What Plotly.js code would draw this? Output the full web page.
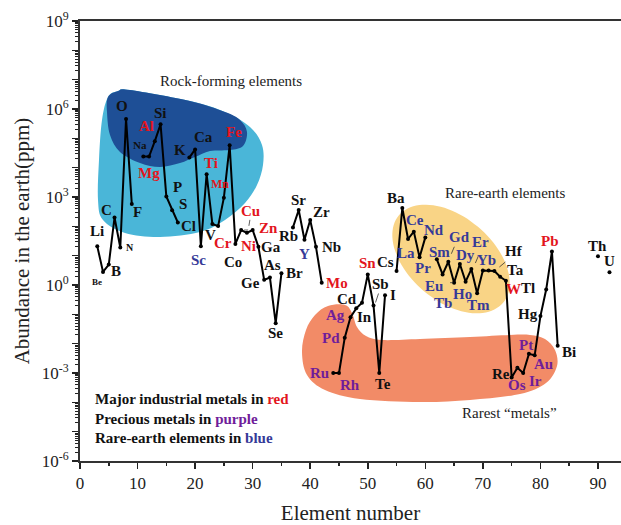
<!DOCTYPE html>
<html><head><meta charset="utf-8">
<script src="https://cdn.plot.ly/plotly-3.0.1.min.js"></script>
<style>html,body{margin:0;padding:0;background:#fff}#chart{width:621px;height:525px}</style>
</head><body><div id="chart"></div>
<script>
// ---------------- DATA ----------------
const elementNumbers = [3,4,5,6,7,8,9,10,11,12,13,14,15,16,17,18,19,20,21,22,23,24,25,26,27,28,29,30,31,32,33,34,35,36,37,38,39,40,41,42,43,44,45,46,47,48,49,50,51,52,53,54,55,56,57,58,59,60,61,62,63,64,65,66,67,68,69,70,71,72,73,74,75,76,77,78,79,80,81,82,83,84,90,91,92];
const symbols = ['Li','Be','B','C','N','O','F','Ne','Na','Mg','Al','Si','P','S','Cl','Ar','K','Ca','Sc','Ti','V','Cr','Mn','Fe','Co','Ni','Cu','Zn','Ga','Ge','As','Se','Br','Kr','Rb','Sr','Y','Zr','Nb','Mo','Tc','Ru','Rh','Pd','Ag','Cd','In','Sn','Sb','Te','I','Xe','Cs','Ba','La','Ce','Pr','Nd','Pm','Sm','Eu','Gd','Tb','Dy','Ho','Er','Tm','Yb','Lu','Hf','Ta','W','Re','Os','Ir','Pt','Au','Hg','Tl','Pb','Bi','Po','Th','Pa','U'];
const abundancePpm = [21,2.8,5,200,19,4.6e5,580,null,2.4e4,2.4e4,8e4,3e5,1050,350,135,null,2.2e4,4.2e4,21,6000,120,102,950,5.8e4,25,75,60,75,20,1.5,1.8,0.05,2.5,null,92,360,35,165,20,1.2,null,0.001,0.001,0.016,0.08,0.16,0.25,2.3,0.2,0.001,0.45,null,3,420,37,66,8.8,42,null,7.5,2.3,6.2,1.2,5.2,1.3,3.5,0.52,3.1,3.1,3.0,1.9,1.4,0.0007,0.0015,0.001,0.0045,0.004,0.087,0.7,14,0.0085,null,9.6,null,2.7];
const majorIndustrial = ['Mg','Al','Ti','Cr','Mn','Fe','Ni','Cu','Zn','Mo','Sn','W','Pb'];
const preciousMetals = ['Ru','Rh','Pd','Ag','Os','Ir','Pt','Au'];
const rareEarths = ['Sc','Y','La','Ce','Pr','Nd','Sm','Eu','Gd','Tb','Dy','Ho','Er','Tm','Yb'];
const unlabelled = ['Lu'];
const xTickVals = [0,10,20,30,40,50,60,70,80,90];
const yDecades = [-6,-5,-4,-3,-2,-1,0,1,2,3,4,5,6,7,8,9];
const yLabelledDecades = [-6,-3,0,3,6,9];

// ---------------- STYLE ----------------
const SERIF = '"Liberation Serif","Times New Roman",serif';
const RED = '#e3151d', PURPLE = '#6f1d9a', BLUE = '#363a98';
// label offsets relative to point [dx, dy] in screen px, optional font size
const labelPos = {
 Li:[0,-15],Be:[-6,10,9],B:[7,6],C:[-8,-8],N:[10,0,10],O:[-4,-13],F:[6,8],Na:[-3,-12,11],Mg:[0,16],Al:[-8,-15],
 Si:[0,-11],P:[11,-9],S:[11,-6],Cl:[11,3],K:[-9,-8],Ca:[8,-12],Sc:[-2,14],Ti:[4,-11],V:[-2,11],Cr:[5,17],
 Mn:[-4,-14,12],Fe:[4,-13],Co:[-2,18],Ni:[7,16],Cu:[4,-22],Zn:[16,-2],Ga:[13,0],Ge:[-14,3],As:[3,-13],Se:[0,10],
 Br:[13,0],Rb:[-4,9],Sr:[0,-10],Y:[0,14],Zr:[11,-8],Nb:[16,0],Mo:[15,0],Ru:[-14,0],Rh:[11,12],Pd:[-14,0],
 Ag:[-15,-2],Cd:[-9,-9],In:[2,14],Sn:[0,-11],Sb:[7,-22],Te:[4,11],I:[8,0],Cs:[-11,-9],Ba:[-6,-10],La:[-2,14],
 Ce:[1,-12],Pr:[3,11],Nd:[9,-7],Sm:[3,-7],Eu:[-9,12],Gd:[11,-25],Tb:[-11,20],Dy:[6,-9],Ho:[-3,12],Er:[9,-27],
 Tm:[1,12],Yb:[4,-11],Hf:[20,-20],Ta:[15,-7],W:[8,8],Re:[-11,-4],Os:[0,17],Ir:[12,8],Pt:[-3,-9],Au:[9,9],
 Hg:[-12,-2],Tl:[-18,-2],Pb:[-2,-10],Bi:[11,6],Th:[0,-10],U:[0,-11]
};
// leader lines: [x0,y0,x1,y1] screen px relative to the point
const leaders = {Ni:[3,1,7,8],Cu:[3,-13,2,-7],Sb:[5,-12,2,-3],Gd:[6,-15,3,-8],Tb:[-1,4,-4,11],Er:[7,-13,4,-6],Hf:[11,-9,5,-4],Os:[0,2,-1,9]};

const L = 80, T = 21, W = 541, H = 440;
function pp(p){ return [(p[0]-L)/W, (T+H-p[1])/H]; }
function smooth(pts){
  const P = pts.map(pp), n = P.length; let d = 'M' + P[0][0] + ',' + P[0][1];
  for (let i=0;i<n;i++){
    const p0=P[(i-1+n)%n], p1=P[i], p2=P[(i+1)%n], p3=P[(i+2)%n];
    const c1=[p1[0]+(p2[0]-p0[0])/6, p1[1]+(p2[1]-p0[1])/6];
    const c2=[p2[0]-(p3[0]-p1[0])/6, p2[1]-(p3[1]-p1[1])/6];
    d += ' C'+c1[0]+','+c1[1]+' '+c2[0]+','+c2[1]+' '+p2[0]+','+p2[1];
  }
  return d + ' Z';
}
function ellipse(cx,cy,a,b,angDeg){
  const t=angDeg*Math.PI/180, pts=[];
  for(let k=0;k<48;k++){const u=2*Math.PI*k/48; const ex=a*Math.cos(u), ey=b*Math.sin(u);
    pts.push([cx+ex*Math.cos(t)-ey*Math.sin(t), cy+ex*Math.sin(t)+ey*Math.cos(t)]);}
  return smooth(pts);
}
const lightBlue = [[108,97],[118,91],[130,90],[190,101],[225,112],[250,127],[262,145],[263,165],[257,185],[245,203],[225,220],[200,232],[160,237],[125,233],[103,220],[98,200],[99,160],[102,120]];
const darkBlue = [[108,97],[118,91],[130,90],[190,101],[225,112],[240,120],[247,132],[243,146],[230,150],[210,151],[195,157],[180,163],[160,167],[140,163],[120,152],[110,135],[107,112]];
const rarest = [[302,352],[306,330],[315,315],[328,306],[345,305],[352,313],[357,327],[366,336],[382,340],[420,339],[470,337],[510,335],[530,335],[545,339],[555,350],[557,366],[546,383],[520,394],[470,400],[420,402],[360,399],[325,390],[307,375]];

const shapes = [
  {type:'path', xref:'paper', yref:'paper', path:smooth(lightBlue), fillcolor:'#4ab6d8', line:{width:0}, layer:'below'},
  {type:'path', xref:'paper', yref:'paper', path:smooth(darkBlue), fillcolor:'#1e4f96', line:{width:0}, layer:'below'},
  {type:'path', xref:'paper', yref:'paper', path:ellipse(451,259,68,42,40), fillcolor:'#f9d486', line:{width:0}, layer:'below'},
  {type:'path', xref:'paper', yref:'paper', path:smooth(rarest), fillcolor:'#f28b67', line:{width:0}, layer:'below'}
];

function colorOf(s){
  if (majorIndustrial.includes(s)) return RED;
  if (preciousMetals.includes(s)) return PURPLE;
  if (rareEarths.includes(s)) return BLUE;
  return '#111';
}
const annotations = [];
symbols.forEach((s,i)=>{
  const v = abundancePpm[i];
  if (v === null || unlabelled.includes(s)) return;
  const o = labelPos[s] || [0,-12];
  annotations.push({x:elementNumbers[i], y:Math.log10(v), xref:'x', yref:'y', text:'<b>'+s+'</b>', showarrow:false,
    xshift:o[0], yshift:-o[1], xanchor:'center', yanchor:'middle',
    font:{family:SERIF, size:o[2]||15, color:colorOf(s)}});
  if (leaders[s]) {
    const q = leaders[s];
    shapes.push({type:'line', xref:'x', yref:'y', xsizemode:'pixel', ysizemode:'pixel',
      xanchor:elementNumbers[i], yanchor:v, x0:q[0], y0:-q[1], x1:q[2], y1:-q[3],
      line:{color:'#333', width:0.8}});
  }
});
const txt = (t,x,y,opts={}) => annotations.push(Object.assign({xref:'paper', yref:'paper', x:pp([x,y])[0], y:pp([x,y])[1], text:t, showarrow:false, xanchor:'center', yanchor:'middle', font:{family:SERIF, size:15, color:'#222'}}, opts));
txt('Rock-forming elements',231,81);
txt('Rare-earth elements',505,193);
txt('Rarest \u201cmetals\u201d',509,413);
const legendFont = {family:SERIF, size:15, color:'#111'};
txt('<b>Major industrial metals in <span style="color:'+RED+'">red</span></b>',93,399,{xanchor:'left', font:legendFont});
txt('<b>Precious metals in <span style="color:'+PURPLE+'">purple</span></b>',93,419,{xanchor:'left', font:legendFont});
txt('<b>Rare-earth elements in <span style="color:'+BLUE+'">blue</span></b>',93,438,{xanchor:'left', font:legendFont});

const minorY = [];
for (let d=-6; d<9; d++) for (let m=2; m<=9; m++) minorY.push(m*Math.pow(10,d));

const trace = {x:elementNumbers, y:abundancePpm, type:'scatter', mode:'lines+markers', connectgaps:false,
  line:{color:'#000', width:2}, marker:{color:'#000', size:4}, hoverinfo:'x+y'};

const layout = {
  width:621, height:525, margin:{l:L, r:0, t:T, b:64}, showlegend:false,
  paper_bgcolor:'#fff', plot_bgcolor:'#fff',
  font:{family:SERIF, color:'#222'},
  xaxis:{range:[0,94], tickvals:xTickVals, ticks:'outside', ticklen:6, tickwidth:1.5, tickcolor:'#222',
    minor:{dtick:5, tick0:0, ticks:'outside', ticklen:3, tickwidth:1.5, tickcolor:'#222'},
    showline:true, linecolor:'#333', linewidth:2, mirror:true, showgrid:false, zeroline:false,
    tickfont:{family:SERIF, size:17, color:'#222'},
    title:{text:'Element number', font:{family:SERIF, size:21, color:'#222'}, standoff:14}},
  yaxis:{type:'log', range:[-6,9], tickmode:'array', tickvals:yDecades.map(d=>Math.pow(10,d)),
    ticktext:yDecades.map(d=>yLabelledDecades.includes(d)?'10<sup>'+d+'</sup>':''),
    ticks:'outside', ticklen:6, tickwidth:1.5, tickcolor:'#222',
    minor:{tickmode:'array', tickvals:minorY, ticks:'outside', ticklen:3, tickwidth:1, tickcolor:'#222'},
    showline:true, linecolor:'#333', linewidth:2, showgrid:false, zeroline:false,
    tickfont:{family:SERIF, size:17, color:'#222'},
    title:{text:'Abundance in the earth(ppm)', font:{family:SERIF, size:21, color:'#222'}, standoff:6}},
  shapes:shapes, annotations:annotations
};
Plotly.newPlot('chart',[trace],layout,{displayModeBar:false, staticPlot:true});
</script></body></html>
